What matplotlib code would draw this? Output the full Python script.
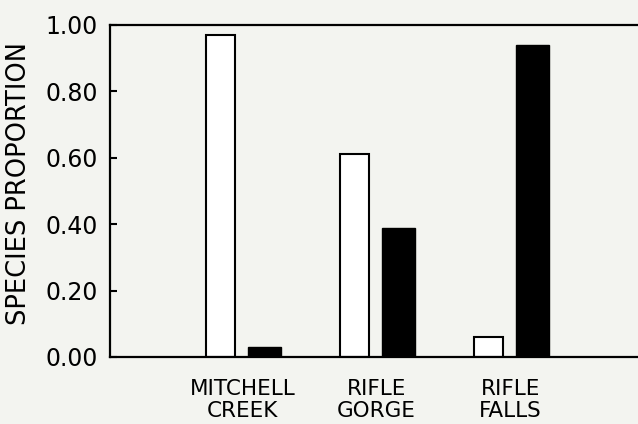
import matplotlib.pyplot as plt
import numpy as np

sites = ["MITCHELL\nCREEK", "RIFLE\nGORGE", "RIFLE\nFALLS"]
open_bars = [0.97, 0.61, 0.06]    # white bars
solid_bars = [0.03, 0.39, 0.94]   # black bars
yticks = [0.0, 0.2, 0.4, 0.6, 0.8, 1.0]

bg = "#f3f4f0"
plt.rcParams["font.family"] = "DejaVu Sans"

fig = plt.figure(figsize=(6.38, 4.24), dpi=100, facecolor=bg)
ax = fig.add_axes([110 / 638, 1 - 357 / 424, 1 - 110 / 638, 332 / 424])
ax.set_facecolor(bg)

x = np.arange(len(sites))
ax.bar(x - 0.165, open_bars, width=0.215, color="white", edgecolor="black", linewidth=1.5)
ax.bar(x + 0.165, solid_bars, width=0.245, color="black", edgecolor="black", linewidth=1.0)

ax.set_xlim(-0.99, 2.95)
ax.set_ylim(0, 1.0)
ax.set_yticks(yticks)
ax.set_yticklabels(["%.2f" % t for t in yticks], fontsize=17)
ax.set_xticks(x)
ax.set_xticklabels(sites, fontsize=15.5, linespacing=1.12)
ax.tick_params(axis="y", direction="in", length=5, width=1.5, pad=9)
ax.tick_params(axis="x", length=0, pad=16)

ax.set_ylabel("SPECIES PROPORTION", fontsize=18.5)
ax.yaxis.set_label_coords(-0.147, 0.523)

for s in ["left", "bottom", "top"]:
    ax.spines[s].set_linewidth(1.6)
ax.spines["right"].set_visible(False)

fig.savefig("out.png", dpi=100, facecolor=bg)
